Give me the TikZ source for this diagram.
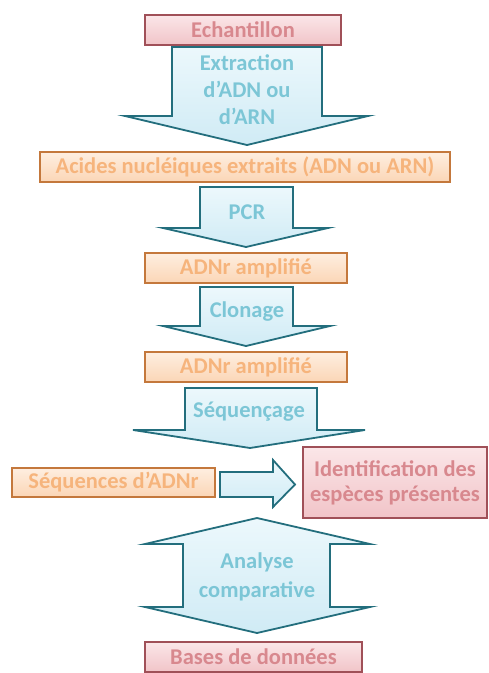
\documentclass[tikz,border=0pt]{standalone}
\usepackage{fontspec}
\setmainfont{Carlito}
\definecolor{pinkline}{RGB}{160,80,88}
\definecolor{pinktop}{RGB}{251,230,232}
\definecolor{pinkbot}{RGB}{241,196,200}
\definecolor{pinktext}{RGB}{216,136,142}
\definecolor{orangeline}{RGB}{196,120,60}
\definecolor{orangetop}{RGB}{254,238,224}
\definecolor{orangebot}{RGB}{251,214,182}
\definecolor{orangetext}{RGB}{246,180,124}
\definecolor{tealline}{RGB}{35,110,125}
\definecolor{bluetop}{RGB}{236,248,252}
\definecolor{bluebot}{RGB}{208,235,245}
\definecolor{bluetext}{RGB}{124,198,214}
\tikzset{
	pinkbox/.style={
		rectangle,
		sharp corners,
		draw=pinkline, line width=1.3pt,
		top color=pinktop, bottom color=pinkbot,
		text=pinktext,
		inner sep=0pt,
		align=center},
	orangebox/.style={
		rectangle,
		sharp corners,
		draw=orangeline, line width=1.3pt,
		top color=orangetop, bottom color=orangebot,
		text=orangetext,
		inner sep=0pt,
		minimum height=30pt,
		align=center},
	blockarrow/.style={
		draw=tealline, line width=1.8pt,
		top color=bluetop, bottom color=bluebot,
		line join=miter},
	arrowtext/.style={
		text=bluetext,
		inner sep=0pt,
		align=center}
}

\begin{document}
\begin{tikzpicture}
[x=1pt, y=-1pt, font=\bfseries\fontsize{22.5}{27}\selectfont]
\useasboundingbox (0,0) rectangle (488,673);
% boites
\node[pinkbox, minimum width=196pt, minimum height=30pt] (echant) at (243,30) {Echantillon};
\node[orangebox, minimum width=410pt] (acides) at (245,167) {Acides nucléiques extraits (ADN ou ARN)};
\node[orangebox, minimum width=202pt] (ampli1) at (246,268) {ADNr amplifié};
\node[orangebox, minimum width=202pt] (ampli2) at (246,367) {ADNr amplifié};
\node[orangebox, minimum width=203pt, minimum height=29pt] (seqs) at (113.5,482.5) {Séquences d’ADNr};
\node[pinkbox, minimum width=184pt, minimum height=71pt, font=\bfseries\fontsize{22.5}{25}\selectfont] (ident) at (395,482.5) {Identification des\\espèces présentes};
\node[pinkbox, minimum width=217pt, minimum height=30pt] (bases) at (253.5,657) {Bases de données};
% fleches
\draw[blockarrow] (172,47) -- (322,47) -- (322,116) -- (368,116) -- (247,145) -- (125,116) -- (172,116) -- cycle;
\draw[blockarrow] (200,187) -- (293,187) -- (293,228) -- (328,228) -- (246,247) -- (163,228) -- (200,228) -- cycle;
\draw[blockarrow] (200,287) -- (293,287) -- (293,326) -- (330,326) -- (246,346) -- (163,326) -- (200,326) -- cycle;
\draw[blockarrow] (185,388) -- (317,388) -- (317,430) -- (365,430) -- (250,448) -- (133,430) -- (185,430) -- cycle;
\draw[blockarrow] (220,472) -- (273,472) -- (273,460) -- (295,484.5) -- (273,507) -- (273,497) -- (220,497) -- cycle;
\draw[blockarrow] (257,518) -- (370,544) -- (330,544) -- (330,607) -- (370,607) -- (257,633) -- (145,607) -- (183,607) -- (183,544) -- (145,544) -- cycle;
% textes des fleches
\node[arrowtext] (extr) at (247,90) {Extraction\\d’ADN ou\\d’ARN};
\node[arrowtext] (pcr) at (247,212) {PCR};
\node[arrowtext] (clon) at (247,312) {Clonage};
\node[arrowtext] (sequ) at (249,412) {Séquençage};
\node[arrowtext, font=\bfseries\fontsize{22.5}{29}\selectfont] (analyse) at (257,577) {Analyse\\comparative};
\end{tikzpicture}
\end{document}
